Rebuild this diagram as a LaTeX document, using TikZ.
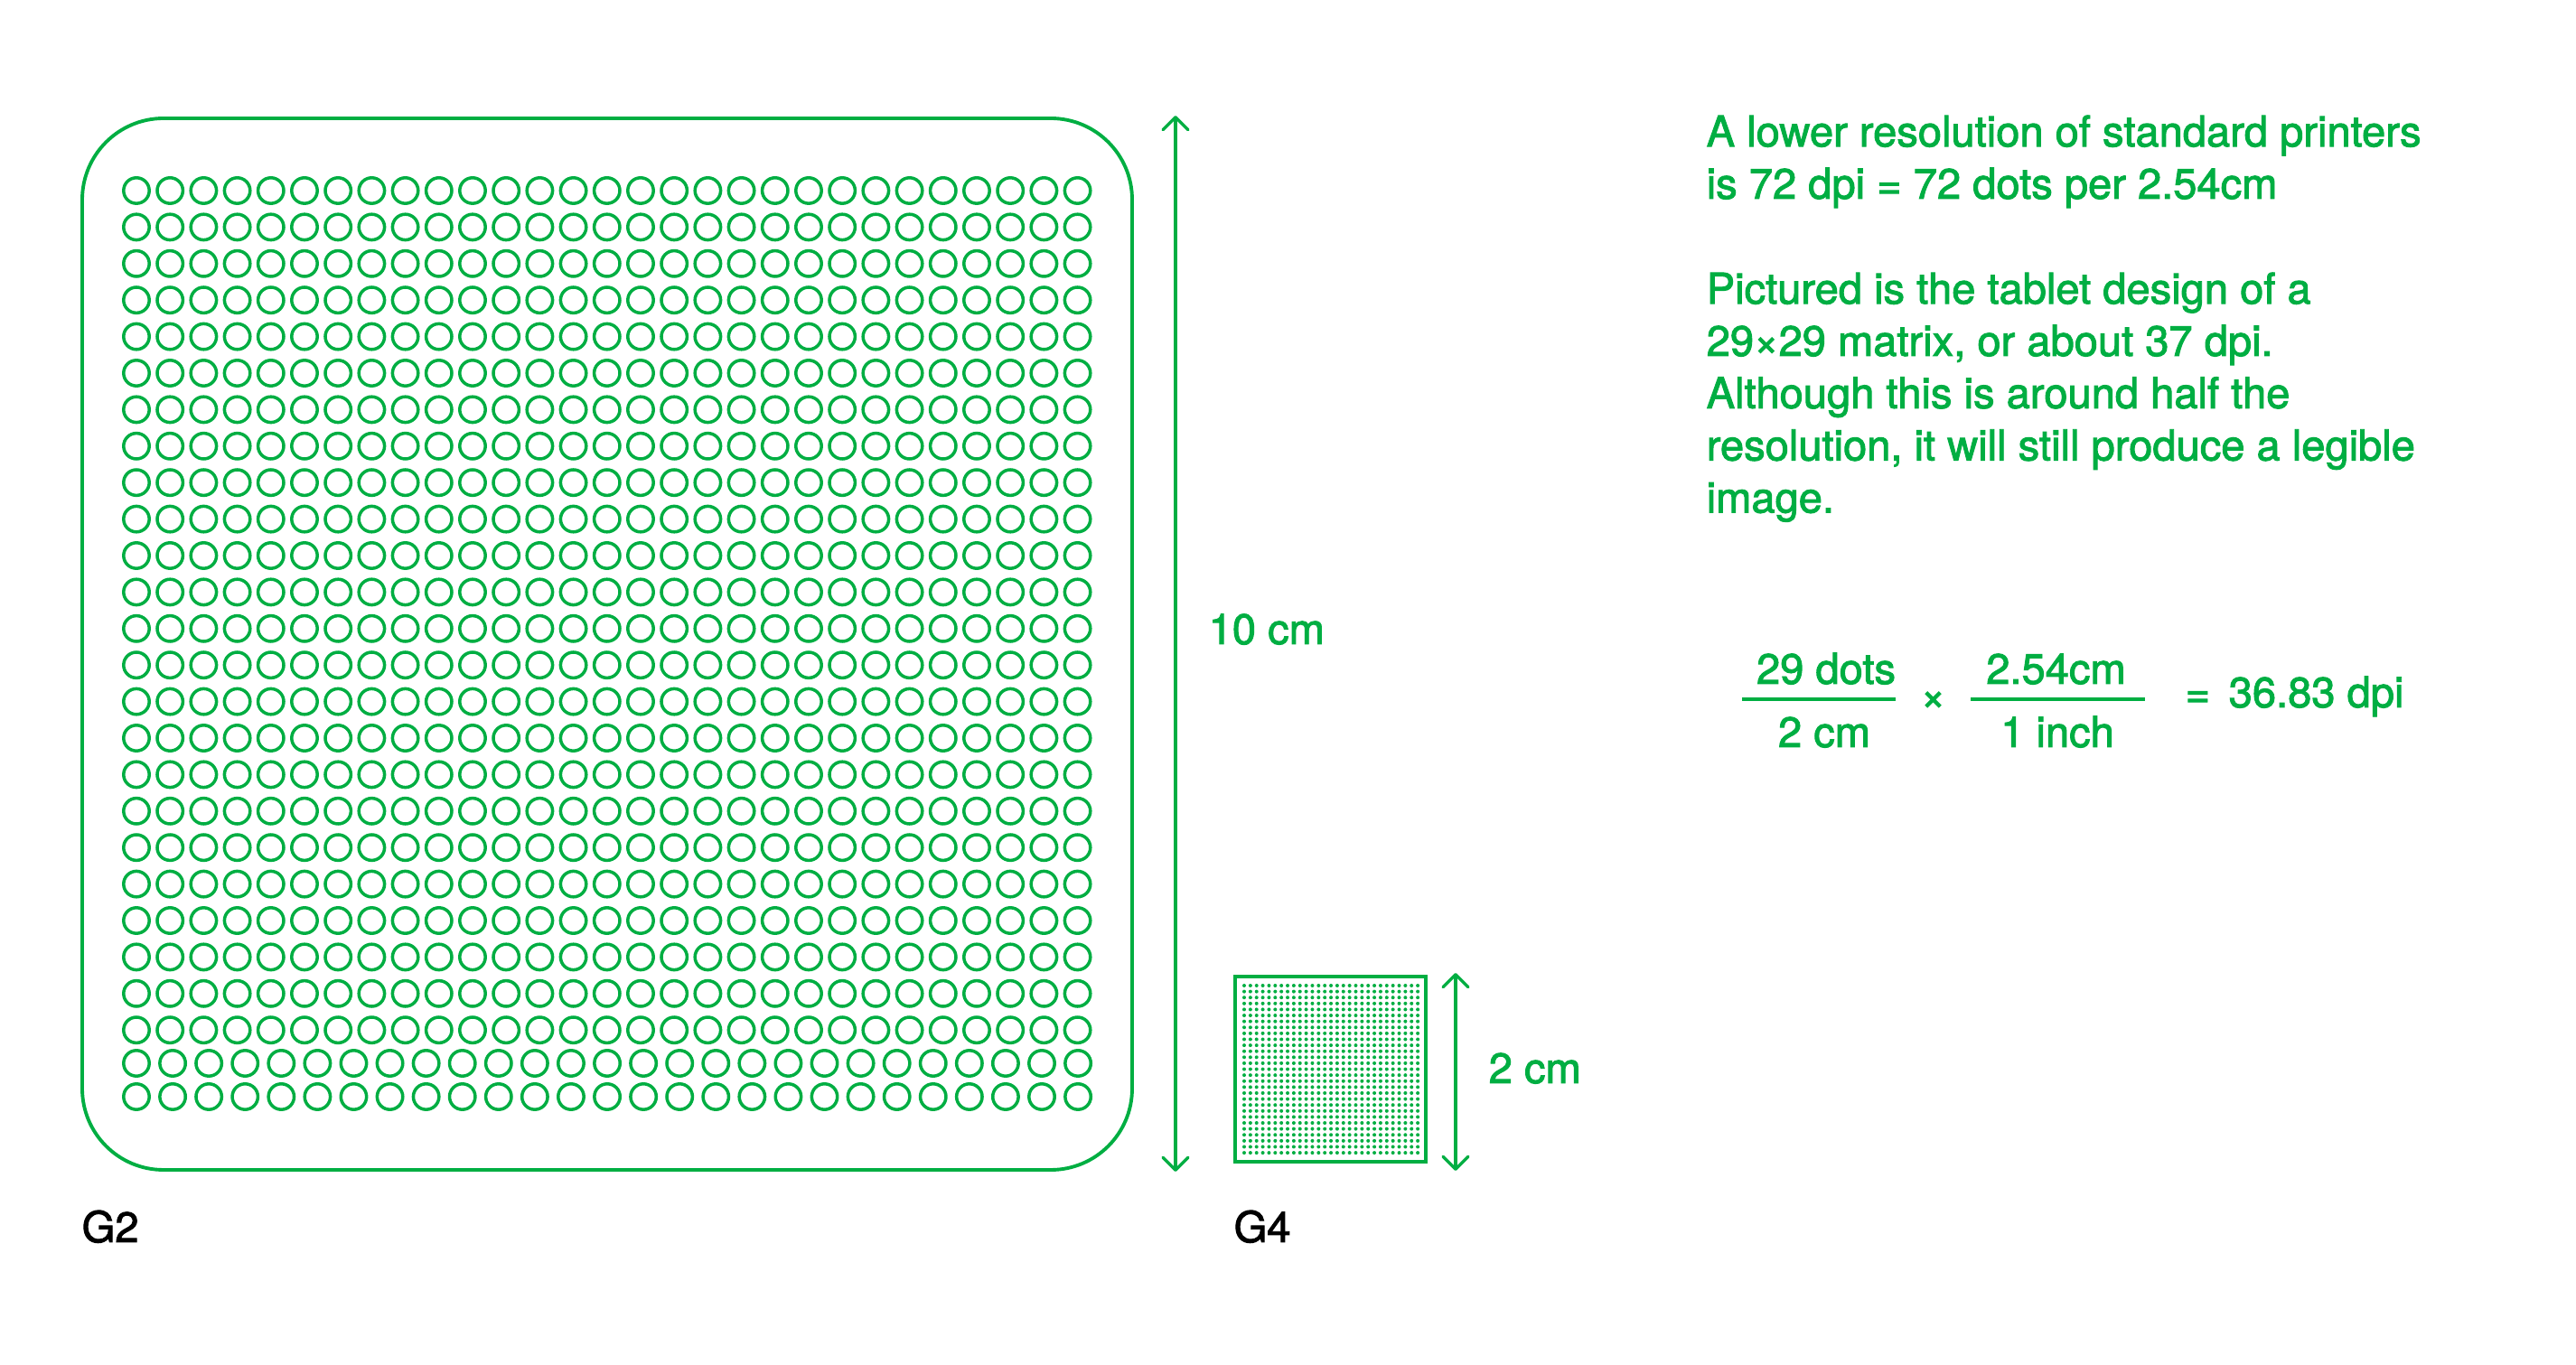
\documentclass[tikz,border=0pt]{standalone}
\usepackage{fontspec}
\setmainfont{TeX Gyre Heros}
\newfontfamily\notefont{TeX Gyre Heros}[FakeBold=2]
\usepackage{xcolor}
\usetikzlibrary{arrows.meta}
\definecolor{printgreen}{HTML}{00AE42}

\begin{document}
\begin{tikzpicture}[
  plate/.style={draw=printgreen,line width=1.1pt,rounded corners=9mm},
  ring/.style={draw=printgreen,line width=1pt},
  pin/.style={fill=printgreen},
  tile/.style={draw=printgreen,line width=1.2pt},
  dim/.style={<->,>={Straight Barb[length=1.4mm,width=2.8mm,round]},
    draw=printgreen,line width=0.95pt},
  bar/.style={draw=printgreen,line width=0.9pt},
  note/.style={text=printgreen,inner sep=0pt,align=left,
    font=\notefont\fontsize{13.4pt}{16.45pt}\selectfont},
  tag/.style={text=black,inner sep=0pt,
    font=\notefont\fontsize{13.4pt}{16.45pt}\selectfont}
]
\useasboundingbox (0,0) rectangle (28.51,-15.11);

% G2 plate with its rings
\draw[plate] (0.91,-1.31) rectangle (12.53,-12.95);
\foreach \j in {0,...,23}
  \foreach \i in {0,...,28}
    \draw[ring] ({1.51+0.372*\i},{-2.11-0.404*\j}) circle (0.142);
\foreach \j in {0,1}
  \foreach \i in {0,...,26}
    \draw[ring] ({1.51+0.4008*\i},{-11.77-0.37*\j}) circle (0.142);

% G4 tile, 29x29 dots
\draw[tile] (13.67,-10.81) rectangle (15.78,-12.86);
\foreach \j in {0,...,28}
  \foreach \i in {0,...,28}
    \fill[pin] ({13.77+0.0686*\i},{-10.91-0.0661*\j}) circle (0.02);

% dimension arrows
\coordinate (bigtop) at (13.01,-1.28);
\coordinate (bigbot) at (13.01,-12.97);
\coordinate (smalltop) at (16.11,-10.77);
\coordinate (smallbot) at (16.11,-12.96);
\draw[dim] (bigtop) -- (bigbot);
\draw[dim] (smalltop) -- (smallbot);
\node[note,anchor=base west] (tencm) at (13.37,-7.13) {10 cm};
\node[note,anchor=base west] (twocm) at (16.47,-11.99) {2 cm};

% labels
\node[tag,anchor=base west] (gtwo) at (0.90,-13.75) {G2};
\node[tag,anchor=base west] (gfour) at (13.65,-13.75) {G4};

% notes
\node[note,anchor=north west] (lower) at (18.88,-1.27)
  {A lower resolution of standard printers\\is 72 dpi = 72 dots per 2.54cm};
\node[note,anchor=north west] (tablet) at (18.88,-3.01)
  {Pictured is the tablet design of a\\29×29 matrix, or about 37 dpi.\\
   Although this is around half the\\resolution, it will still produce a legible\\image.};

% calculation
\node[note,anchor=base] (dots) at (20.21,-7.57) {29 dots};
\node[note,anchor=base] (cmtwo) at (20.19,-8.27) {2 cm};
\draw[bar] (19.28,-7.74) -- (20.98,-7.74);
\node[note] (times) at (21.395,-7.76) {×};
\node[note,anchor=base] (inchcm) at (22.755,-7.57) {2.54cm};
\node[note,anchor=base] (inch) at (22.77,-8.27) {1 inch};
\draw[bar] (21.81,-7.74) -- (23.74,-7.74);
\node[note,anchor=base west] (eq) at (24.18,-7.83) {=};
\node[note,anchor=base west] (dpi) at (24.66,-7.83) {36.83 dpi};
\end{tikzpicture}
\end{document}
